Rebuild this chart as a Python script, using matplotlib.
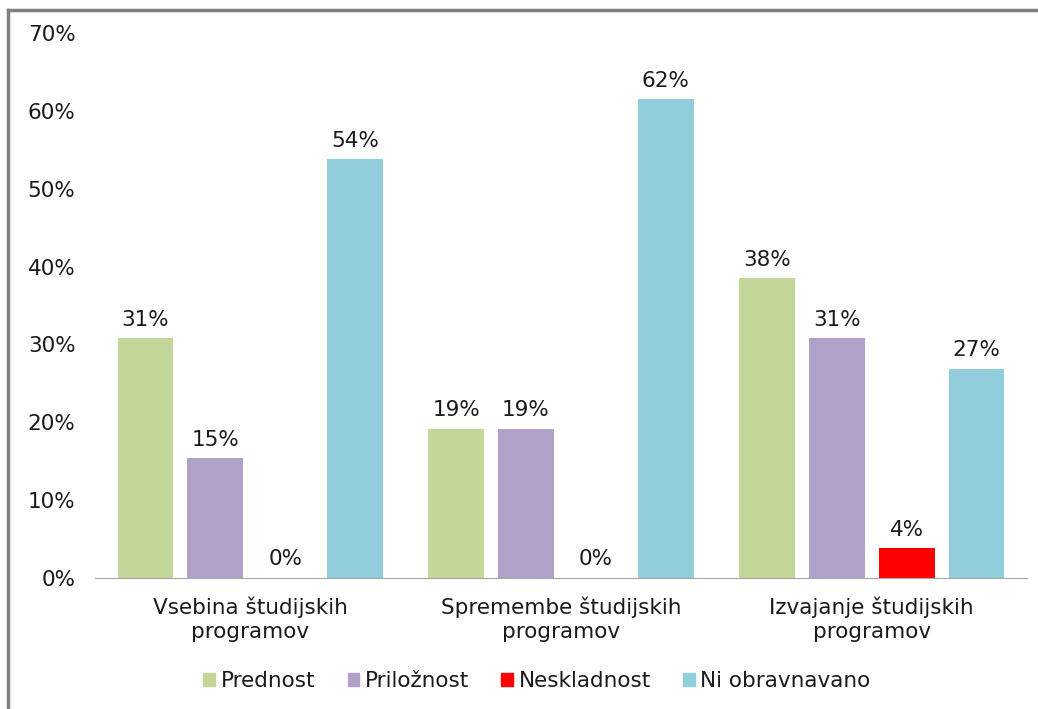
import numpy as np
import matplotlib.pyplot as plt
from matplotlib.lines import Line2D

# Podatki
categories = ['Vsebina študijskih\nprogramov', 'Spremembe študijskih\nprogramov', 'Izvajanje študijskih\nprogramov']
series = ['Prednost', 'Priložnost', 'Neskladnost', 'Ni obravnavano']
prednost = [30.8, 19.2, 38.5]
priloznost = [15.4, 19.2, 30.8]
neskladnost = [0.0, 0.0, 3.8]
ni_obravnavano = [53.8, 61.5, 26.9]
colors = ['#C4D79B', '#B1A0C7', '#FF0000', '#92CDDC']

values = [prednost, priloznost, neskladnost, ni_obravnavano]
fs = 15.5

fig = plt.figure(figsize=(10.38, 7.09), dpi=100)
ax = fig.add_axes([95 / 1038, 1 - 578 / 709, 932 / 1038, 545 / 709])

x = np.arange(len(categories))
w = 0.18
step = 0.225
for i, (name, vals) in enumerate(zip(series, values)):
    pos = x + (i - 1.5) * step
    ax.bar(pos, vals, width=w, color=colors[i], label=name)
    for p, v in zip(pos, vals):
        ax.text(p, v + 1.1, f'{round(v):.0f}%', ha='center', va='bottom', fontsize=fs, color='#1a1a1a')

ax.set_xlim(-0.5, 2.5)
ax.set_ylim(0, 70)
ax.set_yticks(np.arange(0, 71, 10))
ax.set_yticklabels([f'{t}%' for t in range(0, 71, 10)], fontsize=fs, color='#1a1a1a')
ax.set_xticks(x)
ax.set_xticklabels(categories, fontsize=fs, linespacing=1.3, color='#1a1a1a')
ax.tick_params(length=0)
ax.tick_params(axis='x', pad=13)
ax.tick_params(axis='y', pad=14)
for s in ['top', 'right', 'left']:
    ax.spines[s].set_visible(False)
ax.spines['bottom'].set_color('#A6A6A6')

handles = [plt.Rectangle((0, 0), 1, 1, color=c) for c in colors]
fig.legend(handles, series, loc='center', bbox_to_anchor=(537 / 1038, 1 - 681 / 709), ncol=4,
           frameon=False, fontsize=fs, handlelength=0.55, handleheight=0.55, handletextpad=0.25,
           columnspacing=1.5, labelcolor='#1a1a1a')

# okvir
fig.add_artist(Line2D([8 / 1038, 8 / 1038], [0, 1 - 10 / 709], color='#808080', lw=2.5))
fig.add_artist(Line2D([8 / 1038, 1], [1 - 10 / 709, 1 - 10 / 709], color='#808080', lw=2.5))

fig.savefig('out.png', dpi=100)
